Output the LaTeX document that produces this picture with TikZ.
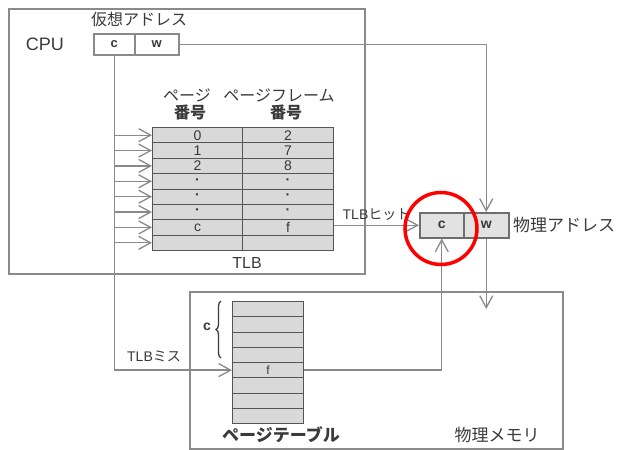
\documentclass[tikz,border=0pt]{standalone}
\usepackage{fontspec}
\setmainfont{Liberation Sans}
\newfontfamily\jp{Noto Sans CJK JP}
\usetikzlibrary{arrows.meta,decorations.pathreplacing}
\definecolor{ln}{HTML}{8A8A8A}
\definecolor{tx}{HTML}{3A3A3A}
\definecolor{cellfill}{HTML}{D9D9D9}
\definecolor{celledge}{HTML}{555555}
\definecolor{paddr}{HTML}{E2E2E2}
\begin{document}
\begin{tikzpicture}[x=1pt,y=-1pt,
  frame/.style={draw=ln, line width=1.6pt, inner sep=0, anchor=north west},
  cell/.style={draw=celledge, fill=cellfill, line width=1pt, inner sep=0, anchor=north west, text=tx, font=\fontsize{14}{14}\selectfont},
  vaddr/.style={draw=ln, fill=white, line width=1.5pt, inner sep=0, anchor=north west, text=tx, font=\bfseries\fontsize{13}{13}\selectfont},
  paddrcell/.style={draw=ln!80!black, fill=paddr, line width=1.5pt, inner sep=0, anchor=north west, text=tx, font=\bfseries\fontsize{14}{14}\selectfont},
  conn/.style={draw=ln, line width=1.3pt, -{Straight Barb[length=12pt,width=13pt]}},
  lbl/.style={text=tx, inner sep=0, font=\fontsize{16}{16}\selectfont},
  lblb/.style={text=tx, inner sep=0, font=\bfseries\fontsize{16}{16}\selectfont}]
\useasboundingbox (0,0) rectangle (625,450);

% frames
\node[frame, minimum width=356, minimum height=265] (cpu) at (8,8) {};
\node[frame, minimum width=373, minimum height=157] (mem) at (189,291) {};

% virtual address
\node[vaddr, minimum width=41, minimum height=21] (vc) at (93,33) {c};
\node[vaddr, minimum width=44, minimum height=21] (vw) at (134,33) {w};
\node[lbl, anchor=west] (vlabel) at (91,19) {\jp 仮想アドレス};
\node[lbl, font=\fontsize{18}{18}\selectfont] (cpulabel) at (45,44) {CPU};

% TLB headers
\node[lbl] (h1) at (187,95) {\jp ページ};
\node[lbl, font=\jp\bfseries\fontsize{16}{16}\selectfont] (h1b) at (190,112) {番号};
\node[lbl] (h2) at (279,95) {\jp ページフレーム};
\node[lbl, font=\jp\bfseries\fontsize{16}{16}\selectfont] (h2b) at (286,112) {番号};

% TLB table
\foreach \i/\a/\b in {1/0/2,2/1/7,3/2/8,4/{\textbf{·}}/{\textbf{·}},5/{\textbf{·}}/{\textbf{·}},6/{\textbf{·}}/{\textbf{·}},7/c/f,8/{}/{}}{
  \node[cell, minimum width=90, minimum height=15.375] (tA\i) at (152,{127+15.375*(\i-1)}) {\a};
  \node[cell, minimum width=91, minimum height=15.375] (tB\i) at (242,{127+15.375*(\i-1)}) {\b};
  \draw[conn] (vc.south |- tA\i.west) -- (tA\i.west);
}
\node[lbl] (tlblabel) at (247,263) {TLB};

% page table
\foreach \i in {1,...,8}{
  \node[cell, minimum width=71, minimum height=15.25] (p\i) at (232,{301+15.25*(\i-1)}) {};
}
\node[cell, draw=none, fill=none, font=\fontsize{12}{12}\selectfont] (pf) at (p5.center) [anchor=center] {f};
\draw[decorate, decoration={brace, amplitude=5pt}, draw=tx, line width=1.3pt] (221,358) -- (221,301);
\node[lblb, font=\bfseries\fontsize{14}{14}\selectfont] (pcl) at (207,327) {c};
\node[lblb, font=\jp\bfseries\fontsize{17}{17}\selectfont] (ptlabel) at (281,435) {ページテーブル};
\node[lbl, font=\jp\fontsize{17}{17}\selectfont] (memlabel) at (497,435) {物理メモリ};

% physical address
\node[paddrcell, minimum width=44, minimum height=25] (pc) at (419,212) {c};
\node[paddrcell, minimum width=45, minimum height=25] (pw) at (463,212) {w};
\node[lbl, anchor=west, font=\jp\fontsize{17}{17}\selectfont] (palabel) at (513,225) {物理アドレス};

% connectors
\draw[conn] (vw.east) -| (pw.north);
\draw[conn] (vc.south) |- (p5.west);
\node[lbl, font=\fontsize{14}{14}\selectfont] (misslabel) at (154,356) {TLB{\jp ミス}};
\draw[conn] (tB7.east |- pc.west) -- (pc.west) node[midway, above=4pt, lbl, font=\fontsize{14}{14}\selectfont] (hitlabel) {TLB{\jp ヒット}};
\draw[conn] (p5.east) -| (pc.south);
\coordinate (memin) at (pw.south |- 0,309);
\draw[conn] (pw.south) -- (memin);

% highlight
\node[draw=red, circle, line width=3.5pt, minimum size=72pt, inner sep=0] (hl) at (441,228.5) {};
\end{tikzpicture}
\end{document}
